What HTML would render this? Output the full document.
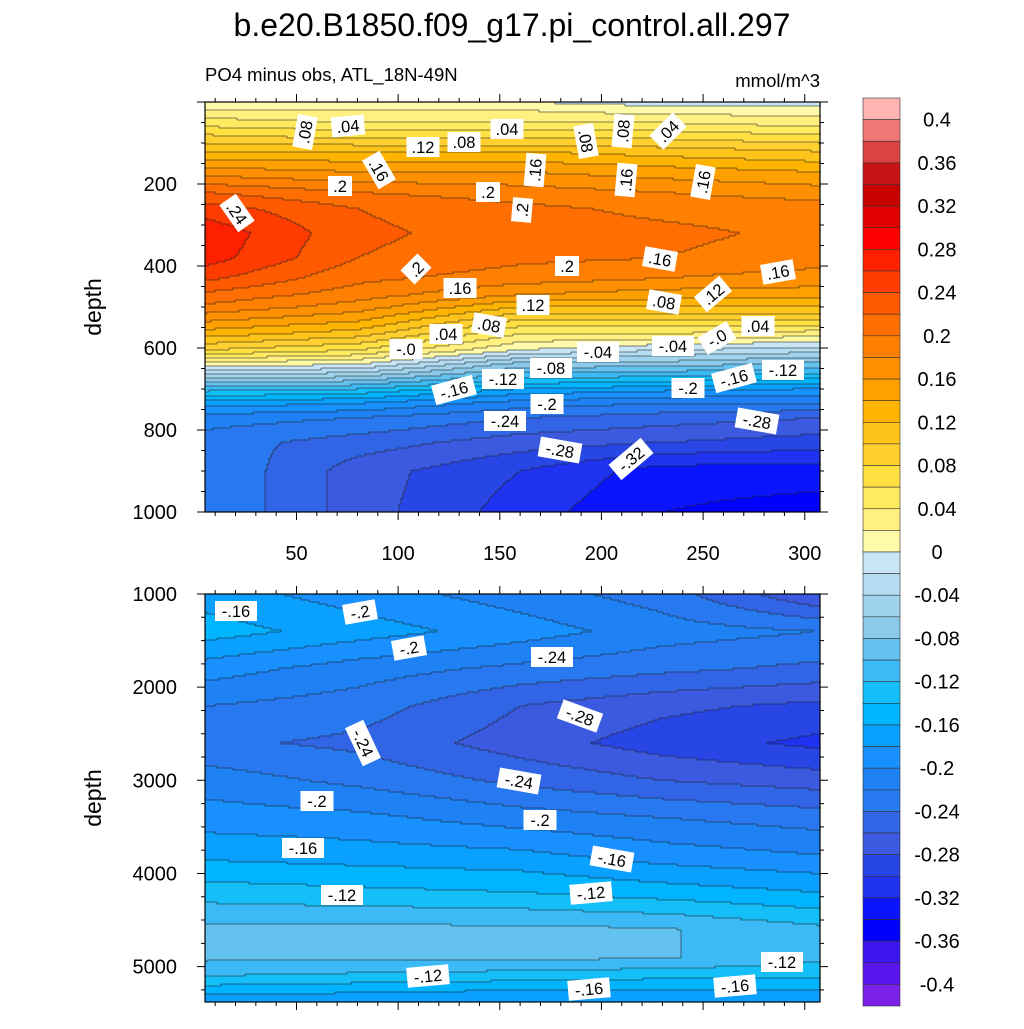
<!DOCTYPE html>
<html><head><meta charset="utf-8">
<style>
html,body{margin:0;padding:0;background:#fff;}
body{width:1024px;height:1024px;overflow:hidden;font-family:"Liberation Sans",sans-serif;}
svg text{font-family:"Liberation Sans",sans-serif;}
</style></head>
<body>
<svg id="root" width="1024" height="1024" viewBox="0 0 1024 1024" xmlns="http://www.w3.org/2000/svg">
<text x="512" y="36" font-size="32" text-anchor="middle">b.e20.B1850.f09_g17.pi_control.all.297</text>
<text x="205" y="81" font-size="18.5">PO4 minus obs, ATL_18N-49N</text>
<text x="820" y="87" font-size="18.5" text-anchor="end">mmol/m^3</text>
<text transform="translate(101,307) rotate(-90)" font-size="23" text-anchor="middle">depth</text>
<text transform="translate(101,798) rotate(-90)" font-size="23" text-anchor="middle">depth</text>
<g id="topFill"></g>
<g id="botFill"></g>
<g id="axes"></g>
<g id="labels"></g>
<g id="cbar"></g>
</svg>
<script>
// ---- data ----
const colors = ["#ffb3b3","#f07878","#dc4444","#c81414","#c80000","#e00000","#ff0000","#ff2000","#ff3c00","#ff5a00","#ff6e00","#ff8000","#ff9000","#ffa000","#ffb400","#ffc41a","#ffd030","#ffe040","#ffea60","#fff080","#fffaa8","#c8e6f5","#b4dcf2","#a0d4ee","#8ccaeb","#64c2f0","#3cbaf5","#14bef8","#00b4ff","#0aa0ff","#1890ff","#1e82f5","#2878f0","#3264e6","#3c5ae0","#2846e6","#1e32f0","#0a14ff","#0000ff","#3c14f0","#5a14f0","#7a20e8"];
const cbarLabels = ["0.4","0.36","0.32","0.28","0.24","0.2","0.16","0.12","0.08","0.04","0","-0.04","-0.08","-0.12","-0.16","-0.2","-0.24","-0.28","-0.32","-0.36","-0.4"];
const xCols = [5, 80, 160, 230, 307];
const topDepths = [0,20,50,90,120,170,220,260,320,380,430,470,500,530,565,605,640,675,705,735,770,830,900,1000];
const topCol0 = [0.01,0.02,0.05,0.09,0.12,0.17,0.22,0.25,0.275,0.27,0.245,0.215,0.195,0.165,0.13,0.08,0.01,-0.06,-0.12,-0.17,-0.21,-0.23,-0.22,-0.22];
const topCol1 = [0.01,0.02,0.04,0.08,0.12,0.16,0.20,0.22,0.225,0.22,0.205,0.19,0.17,0.145,0.11,0.06,0.00,-0.07,-0.13,-0.18,-0.22,-0.25,-0.27,-0.27];
const topCol2 = [0.00,0.02,0.04,0.08,0.12,0.16,0.19,0.205,0.21,0.205,0.19,0.16,0.12,0.08,0.04,0.00,-0.07,-0.12,-0.17,-0.21,-0.24,-0.27,-0.30,-0.31];
const topCol3 = [-0.01,0.01,0.04,0.08,0.11,0.15,0.18,0.195,0.205,0.20,0.18,0.15,0.12,0.08,0.04,-0.02,-0.07,-0.13,-0.18,-0.22,-0.25,-0.28,-0.33,-0.34];
const topCol4 = [-0.01,0.01,0.03,0.07,0.10,0.14,0.17,0.19,0.195,0.19,0.17,0.15,0.12,0.08,0.03,-0.03,-0.09,-0.14,-0.19,-0.22,-0.26,-0.29,-0.33,-0.35];
const botDepths = [1000,1400,1800,2200,2600,3000,3400,3800,4200,4600,4900,5100,5250,5400];
const botCol0 = [-0.17,-0.15,-0.19,-0.22,-0.235,-0.21,-0.19,-0.165,-0.13,-0.095,-0.095,-0.12,-0.15,-0.18];
const botCol1 = [-0.19,-0.17,-0.21,-0.23,-0.245,-0.225,-0.195,-0.17,-0.135,-0.095,-0.095,-0.125,-0.155,-0.18];
const botCol2 = [-0.21,-0.19,-0.225,-0.26,-0.27,-0.245,-0.21,-0.175,-0.14,-0.095,-0.095,-0.13,-0.16,-0.18];
const botCol3 = [-0.23,-0.21,-0.235,-0.275,-0.29,-0.26,-0.22,-0.19,-0.15,-0.098,-0.098,-0.135,-0.16,-0.18];
const botCol4 = [-0.28,-0.22,-0.245,-0.285,-0.305,-0.27,-0.23,-0.20,-0.16,-0.115,-0.115,-0.135,-0.16,-0.18];
const xTicks = [50,100,150,200,250,300];
const topYTicks = [200,400,600,800,1000];
const botYTicks = [1000,2000,3000,4000,5000];

// ---- layout ----
const NS="http://www.w3.org/2000/svg";
const PL=205, PR=820;
const X0=5, X1=307.5;
const TOP={y0:102,y1:512,d0:0,d1:1000};
const BOT={y0:594,y1:1002,d0:1000,d1:5380};
function xs(v){return PL+(v-X0)/(X1-X0)*(PR-PL);}
function ys(P,d){return P.y0+(d-P.d0)/(P.d1-P.d0)*(P.y1-P.y0);}
function mk(tag,attrs,parent){const e=document.createElementNS(NS,tag);for(const k in attrs)e.setAttribute(k,attrs[k]);parent.appendChild(e);return e;}
function seg(arr,v){let i=0;while(i<arr.length-2&&v>arr[i+1])i++;let t=(v-arr[i])/(arr[i+1]-arr[i]);t=Math.max(0,Math.min(1,t));return[i,t];}
function field(cols,depths,x,d){
  const [i,tx]=seg(xCols,x);const [j,td]=seg(depths,d);
  const a=cols[i][j]*(1-td)+cols[i][j+1]*td;
  const b=cols[i+1][j]*(1-td)+cols[i+1][j+1]*td;
  return a*(1-tx)+b*tx;
}
function lev(v){if(v>=0.4)return 0;let k=Math.floor((0.4-v)/0.02+1e-9)+1;return Math.max(0,Math.min(41,k));}

function drawPanel(P,cols,depths,g,name){
  const cs=2;const nx=Math.ceil((PR-PL)/cs), ny=Math.ceil((P.y1-P.y0)/cs);
  const L=[];
  for(let r=0;r<ny;r++){L.push([]);const py=P.y0+(r+0.5)*cs;const d=P.d0+(py-P.y0)/(P.y1-P.y0)*(P.d1-P.d0);
    for(let c=0;c<nx;c++){const px=PL+(c+0.5)*cs;const x=X0+(px-PL)/(PR-PL)*(X1-X0);L[r].push(lev(field(cols,depths,x,d)));}}
  for(let r=0;r<ny;r++){let c=0;while(c<nx){let c2=c;while(c2+1<nx&&L[r][c2+1]===L[r][c])c2++;
      const y=P.y0+r*cs, h=Math.min(cs,P.y1-y), x=PL+c*cs, w=Math.min((c2+1)*cs,PR-PL)-c*cs;
      const e=mk('rect',{x:x,y:y,width:w+0.5,height:h+0.5,fill:colors[L[r][c]]},g);
      
      
      c=c2+1;}}
  let dpath='';
  for(let r=1;r<ny;r++)for(let c=0;c<nx;c++){if(L[r][c]!==L[r-1][c]){dpath+='M'+(PL+c*cs)+' '+(P.y0+r*cs)+'h'+cs;}}
  for(let r=0;r<ny;r++)for(let c=1;c<nx;c++){if(L[r][c]!==L[r][c-1]){dpath+='M'+(PL+c*cs)+' '+(P.y0+r*cs)+'v'+cs;}}
  const ln=mk('path',{d:dpath,stroke:'#222',"stroke-width":0.8,fill:'none',opacity:0.75},g);
  
  
}
drawPanel(TOP,[topCol0,topCol1,topCol2,topCol3,topCol4],topDepths,document.getElementById('topFill'),'top-panel');
drawPanel(BOT,[botCol0,botCol1,botCol2,botCol3,botCol4],botDepths,document.getElementById('botFill'),'bottom-panel');

const ax=document.getElementById('axes');
function axesFor(P,yTicks,showX,name){
  const fr=mk('rect',{x:PL,y:P.y0,width:PR-PL,height:P.y1-P.y0,fill:'none',stroke:'#000','stroke-width':1.2},ax);
  
  
  let p='';
  for(let v=10;v<=300;v+=10){const x=xs(v);const len=(v%50===0)?8:4;p+='M'+x+' '+P.y0+'v'+(-len)+'M'+x+' '+P.y1+'v'+len;}
  const step=(P===TOP)?50:250;
  for(let d=P.d0;d<=P.d1;d+=step){const y=ys(P,d);const len=(d%(P===TOP?200:1000)===0)?8:4;p+='M'+PL+' '+y+'h'+(-len)+'M'+PR+' '+y+'h'+len;}
  mk('path',{d:p,stroke:'#000','stroke-width':1,fill:'none'},ax);
  yTicks.forEach(t=>{const e=mk('text',{x:177,y:ys(P,t)+7,'font-size':20,'text-anchor':'end'},ax);e.textContent=t;
    
    });
  if(showX)xTicks.forEach(t=>{const e=mk('text',{x:xs(t),y:560,'font-size':20,'text-anchor':'middle'},ax);e.textContent=t;
    
    });
}
axesFor(TOP,topYTicks,true,'top-panel');
axesFor(BOT,botYTicks,false,'bottom-panel');

const lbls=[[".08",305,132,-80],[".04",348,126,-5],[".12",423,147,0],[".08",464,142,0],[".04",507,129,0],[".08",586,141,80],[".08",623,131,-85],[".04",668,131,-45],[".16",379,170,60],[".2",340,186,0],[".2",488,192,0],[".16",535,170,-85],[".2",522,210,-85],[".16",626,180,-85],[".16",703,182,-80],[".24",237,213,55],[".2",416,269,-45],[".2",567,266,0],[".16",660,259,10],[".16",778,272,-10],[".16",460,288,0],[".12",533,305,0],[".08",489,325,10],[".08",664,302,10],[".12",713,294,-40],[".04",446,334,0],[".04",758,326,0],["-.0",406,349,0],["-.04",598,352,0],["-.04",673,346,0],["-.0",717,338,-30],["-.08",551,368,0],["-.12",503,379,0],["-.16",454,390,-15],["-.12",783,370,0],["-.2",688,388,0],["-.16",734,378,-15],["-.2",547,404,0],["-.24",505,421,0],["-.28",560,450,10],["-.28",757,421,10],["-.32",631,459,-40],
["-.16",236,611,0],["-.2",360,612,-10],["-.2",409,648,-10],["-.24",552,657,0],["-.28",580,716,20],["-.24",363,743,65],["-.24",519,781,10],["-.2",317,801,0],["-.2",540,820,0],["-.16",303,848,0],["-.16",612,859,10],["-.12",342,895,0],["-.12",591,893,-5],["-.12",428,976,-5],["-.16",589,989,-5],["-.12",782,962,0],["-.16",735,986,-5]];
const lg=document.getElementById('labels');
lbls.forEach(l=>{const g=mk('g',{transform:'translate('+l[1]+','+l[2]+') rotate('+l[3]+')'},lg);
  
  
  const w=l[0].length*9+6;
  mk('rect',{x:-w/2,y:-10,width:w,height:20,fill:'#fff'},g);
  const t=mk('text',{x:0,y:6,'font-size':16.5,'text-anchor':'middle'},g);t.textContent=l[0];});

const cb=document.getElementById('cbar');
const CBX=863,CBW=37,CBY0=98,CBY1=1006;const bh=(CBY1-CBY0)/colors.length;
colors.forEach((c,i)=>{const e=mk('rect',{x:CBX,y:CBY0+i*bh,width:CBW,height:bh,fill:c,stroke:'#333','stroke-width':0.6},cb);
  
  });
cbarLabels.forEach((s,i)=>{const y=CBY0+bh*(1+2*i);const e=mk('text',{x:937,y:y+7,'font-size':20,'text-anchor':'middle'},cb);e.textContent=s;
  
  });
</script>
</body></html>
